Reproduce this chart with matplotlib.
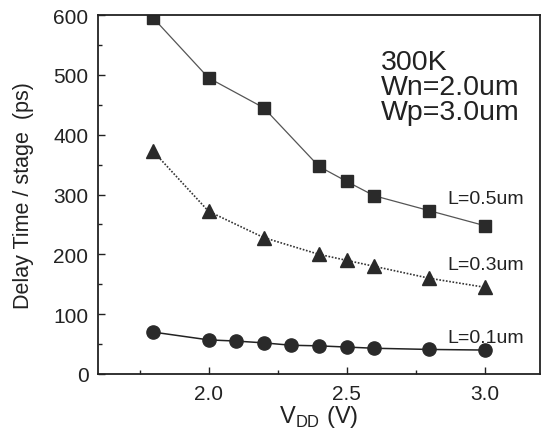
import matplotlib
matplotlib.use('Agg')
import matplotlib.pyplot as plt
from matplotlib.ticker import MultipleLocator, FormatStrFormatter

plt.rcParams['font.family'] = ['Liberation Sans', 'DejaVu Sans']
plt.rcParams['mathtext.fontset'] = 'custom'
plt.rcParams['mathtext.rm'] = 'Liberation Sans'

# delay time per stage (ps) vs supply voltage
vdd_05 = [1.8, 2.0, 2.2, 2.4, 2.5, 2.6, 2.8, 3.0]
delay_05 = [595, 495, 445, 347, 322, 298, 273, 248]

vdd_03 = [1.8, 2.0, 2.2, 2.4, 2.5, 2.6, 2.8, 3.0]
delay_03 = [372, 272, 228, 200, 190, 180, 160, 145]

vdd_01 = [1.8, 2.0, 2.1, 2.2, 2.3, 2.4, 2.5, 2.6, 2.8, 3.0]
delay_01 = [70, 57, 55, 52, 48, 47, 45, 43, 41, 40]

fig = plt.figure(figsize=(5.42, 4.35), dpi=100)
ax = fig.add_axes([0.181, 0.138, 0.815, 0.825])

mk = '#2a2a2a'
ax.plot(vdd_05, delay_05, color='#555555', lw=0.9, marker='s', ms=8.5,
        mfc=mk, mec=mk)
ax.plot(vdd_03, delay_03, color='#333333', lw=1.2, ls=(0, (1, 1)), marker='^', ms=9.5,
        mfc=mk, mec=mk)
ax.plot(vdd_01, delay_01, color='#222222', lw=1.1, marker='o', ms=9.5,
        mfc=mk, mec=mk)

ax.set_xlim(1.6, 3.2)
ax.set_ylim(0, 600)
ax.xaxis.set_major_locator(MultipleLocator(0.5))
ax.xaxis.set_minor_locator(MultipleLocator(0.25))
ax.yaxis.set_major_locator(MultipleLocator(100))
ax.yaxis.set_minor_locator(MultipleLocator(50))
ax.xaxis.set_major_formatter(FormatStrFormatter('%.1f'))
ax.tick_params(which='both', direction='in', top=False, right=False,
               labelsize=15, colors='#222222', pad=7)
ax.tick_params(which='major', length=5, width=1)
ax.tick_params(which='minor', length=3, width=1)
for s in ax.spines.values():
    s.set_linewidth(1.3)
    s.set_color('#222222')

ax.set_xlabel(r'V$_{\mathrm{DD}}$ (V)', fontsize=17, labelpad=0, color='#222222')
ax.set_ylabel('Delay Time / stage  (ps)', fontsize=15.5, labelpad=14, color='#222222')

ax.text(0.64, 0.695, '300K\nWn=2.0um\nWp=3.0um', fontsize=20.5, linespacing=0.95,
        ha='left', va='bottom', color='#222222', transform=ax.transAxes)

ax.text(0.965, 0.49, 'L=0.5um', fontsize=14, ha='right', va='center', color='#222222',
        transform=ax.transAxes)
ax.text(0.965, 0.305, 'L=0.3um', fontsize=14, ha='right', va='center', color='#222222',
        transform=ax.transAxes)
ax.text(0.965, 0.102, 'L=0.1um', fontsize=14, ha='right', va='center', color='#222222',
        transform=ax.transAxes)

fig.savefig('out.png', dpi=100)
